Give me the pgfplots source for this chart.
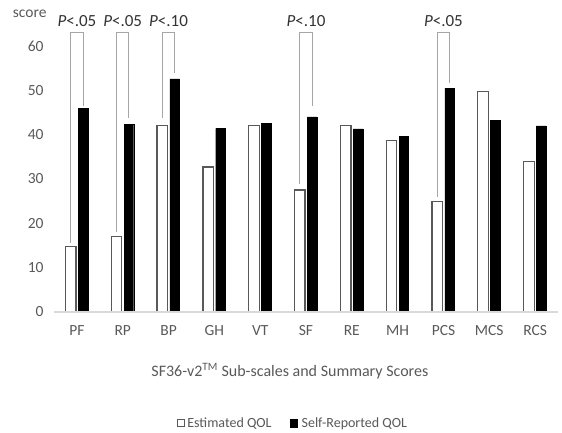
\documentclass[border=0pt]{standalone}
\usepackage{pgfplots}
\pgfplotsset{compat=1.18}
\usepackage{fontspec}
\setmainfont{Carlito}
\definecolor{txt}{HTML}{595959}
\definecolor{axl}{HTML}{D9D9D9}
\definecolor{brk}{HTML}{A6A6A6}
\definecolor{estedge}{HTML}{595959}
\begin{document}
\begin{tikzpicture}
\begin{axis}[
  name=ax,
  scale only axis, width=504pt, height=292.6pt,
  xmin=-0.5, xmax=10.5, ymin=0, ymax=66,
  clip=false,
  axis on top,
  axis lines=left,
  x axis line style={axl, line width=1.2pt, -},
  y axis line style={draw=none},
  major tick length=0pt,
  tick style={draw=none},
  ytick={0,10,20,30,40,50,60},
  xtick={0,1,2,3,4,5,6,7,8,9,10},
  xticklabels={PF,RP,BP,GH,VT,SF,RE,MH,PCS,MCS,RCS},
  /pgf/number format/assume math mode=true,
  tick label style={font=\fontsize{15.5}{18}\selectfont, text=txt},
  yticklabel style={xshift=-7pt},
  xticklabel style={yshift=-10pt},
  legend style={at={(0.474,-0.379)}, anchor=center, draw=none,
    font=\fontsize{14}{16}\selectfont, text=txt,
    /tikz/every even column/.append style={column sep=16pt},
    inner sep=0pt},
  legend columns=2,
]
\addplot[ybar, bar width=0.23, bar shift=-0.135, fill=white, draw=estedge, line width=1.3pt,
  legend image code/.code={\draw[estedge, line width=0.9pt, fill=white] (0pt,-3.8pt) rectangle (7.6pt,3.8pt);}]
  coordinates {(0,14.7) (1,17.0) (2,42.0) (3,32.7) (4,42.0) (5,27.5) (6,42.0) (7,38.7) (8,25.0) (9,49.8) (10,34.0)};
\addlegendentry{Estimated QOL}
\addplot[ybar, bar width=0.21, bar shift=0.135, fill=black, draw=black,
  legend image code/.code={\fill[black] (0pt,-3.8pt) rectangle (7.6pt,3.8pt);}]
  coordinates {(0,46.0) (1,42.4) (2,52.6) (3,41.4) (4,42.6) (5,44.0) (6,41.3) (7,39.6) (8,50.5) (9,43.2) (10,42.0)};
\addlegendentry{\hspace{2pt}Self-Reported QOL}
% significance brackets
\addplot[brk, line width=1pt, forget plot] coordinates {(-0.135,15.6) (-0.135,63) (0.135,63) (0.135,46.5)};
\addplot[brk, line width=1pt, forget plot] coordinates {(0.865,18.0) (0.865,63) (1.135,63) (1.135,43.8)};
\addplot[brk, line width=1pt, forget plot] coordinates {(1.865,43.8) (1.865,63) (2.135,63) (2.135,54.0)};
\addplot[brk, line width=1pt, forget plot] coordinates {(4.865,28.9) (4.865,63) (5.135,63) (5.135,46.5)};
\addplot[brk, line width=1pt, forget plot] coordinates {(7.865,25.9) (7.865,63) (8.135,63) (8.135,51.7)};
\node[font=\fontsize{17}{19}\selectfont, text=black!80] at (axis cs:0,65.6) {\textit{P}<.05};
\node[font=\fontsize{17}{19}\selectfont, text=black!80] at (axis cs:1,65.6) {\textit{P}<.05};
\node[font=\fontsize{17}{19}\selectfont, text=black!80] at (axis cs:2,65.6) {\textit{P}<.10};
\node[font=\fontsize{17}{19}\selectfont, text=black!80] at (axis cs:5,65.6) {\textit{P}<.10};
\node[font=\fontsize{17}{19}\selectfont, text=black!80] at (axis cs:8,65.6) {\textit{P}<.05};
\node[font=\fontsize{15.5}{18}\selectfont, text=txt] at (axis cs:-1.03,67.2) {score};
\node[font=\fontsize{16}{18}\selectfont, text=txt] at (axis description cs:0.468,-0.2016) {SF36-v2\textsuperscript{TM} Sub-scales and Summary Scores};
\end{axis}
\pgfresetboundingbox
\path[use as bounding box] (ax.south west) ++(-54pt,-120pt) rectangle ++(562pt,432pt);
\end{tikzpicture}
\end{document}
